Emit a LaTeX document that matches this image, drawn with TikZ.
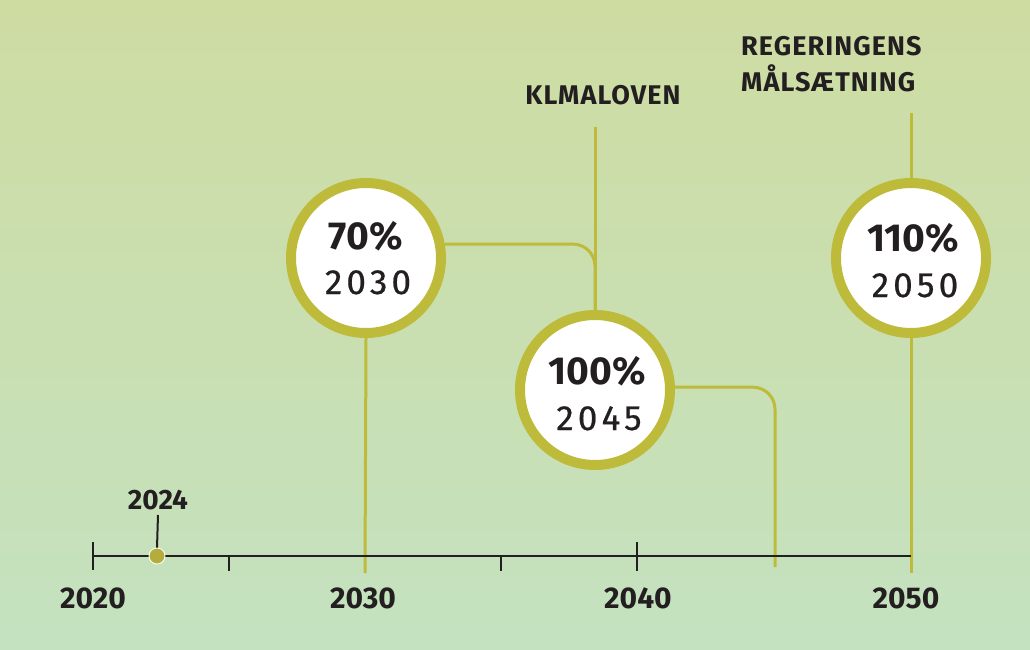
\documentclass[tikz,border=0pt]{standalone}
\usepackage{fontspec}
\setmainfont{Fira Sans}
\newfontfamily\spc[LetterSpace=4]{Fira Sans}
\newfontfamily\yrfont[LetterSpace=12,FakeBold=0.6]{Fira Sans}
\definecolor{ringc}{RGB}{190,187,58}
\definecolor{ink}{RGB}{35,31,32}
\definecolor{bgtop}{RGB}{206,220,162}
\definecolor{bgbot}{RGB}{196,226,192}
\definecolor{dotc}{RGB}{180,172,60}
\begin{document}
\begin{tikzpicture}[x=1pt,y=-1pt,
 ring/.style={circle,draw=ringc,line width=10pt,fill=white,minimum size=150pt,inner sep=0pt},
 conn/.style={draw=ringc,line width=3pt},
 axisline/.style={draw=ink,line width=2.2pt},
 tickmark/.style={draw=ink,line width=2pt},
 pct/.style={font=\fontsize{39}{40}\selectfont\bfseries,text=ink,anchor=base,inner sep=0pt},
 yr/.style={font=\fontsize{35}{36}\selectfont\yrfont,text=ink,anchor=base,inner sep=0pt},
 axlbl/.style={font=\fontsize{30}{30}\selectfont\bfseries,text=ink,anchor=base,inner sep=0pt},
 headlbl/.style={font=\fontsize{27}{34}\selectfont\spc\bfseries,text=ink,inner sep=0pt},
]
\shade[top color=bgtop,bottom color=bgbot] (0,0) rectangle (1030,650);
\useasboundingbox (0,0) rectangle (1030,650);

% circles
\node[ring] (c70) at (366,258) {};
\node[ring] (c100) at (595,390) {};
\node[ring] (c110) at (911,258) {};

% coordinates
\coordinate (kl) at (595,127);
\coordinate (rg) at (911,113);
\coordinate (g30) at (365,573);
\coordinate (g45) at (775,567);
\coordinate (g50) at (911,573);

% green connectors
\draw[conn] (kl) -- (c100.north);
\draw[conn] (rg) -- (c110.north);
\draw[conn,rounded corners=22pt] (c70.10) -| (c100.north);
\draw[conn,rounded corners=22pt] (c100.2) -| (g45);
\draw[conn] (c70.south) -- (g30);
\draw[conn] (c110.south) -- (g50);

% axis
\coordinate (a20) at (93,556);
\coordinate (a50) at (911,556);
\draw[axisline] (a20) -- (a50);
\coordinate (t20a) at (93,542); \coordinate (t20b) at (93,570);
\coordinate (t25a) at (229,556); \coordinate (t25b) at (229,571);
\coordinate (t35a) at (501,556); \coordinate (t35b) at (501,571);
\coordinate (t40a) at (637,542); \coordinate (t40b) at (637,571);
\draw[tickmark] (t20a) -- (t20b);
\draw[tickmark] (t25a) -- (t25b);
\draw[tickmark] (t35a) -- (t35b);
\draw[tickmark] (t40a) -- (t40b);

% 2024 marker
\coordinate (l24) at (158,515);
\node[circle,fill=dotc,draw=white,line width=0.8pt,minimum size=16pt,inner sep=0pt] (d24) at (157,556) {};
\draw[tickmark] (d24.north) -- (l24);

% axis labels
\node[axlbl,font=\fontsize{28}{28}\selectfont\bfseries] (y24) at (158,509) {2024};
\node[axlbl] (y20) at (93,608) {2020};
\node[axlbl] (y30) at (363,608) {2030};
\node[axlbl] (y40) at (638,608) {2040};
\node[axlbl] (y50) at (906,608) {2050};

% circle texts
\node[pct] (p70) at (366,249) {70\%};
\node[yr] (r70) at (368,294) {2030};
\node[pct] (p100) at (597,384) {100\%};
\node[yr] (r100) at (599,430) {2045};
\node[pct] (p110) at (913,251) {110\%};
\node[yr] (r110) at (915,297) {2050};

% headings
\node[headlbl,anchor=base] (hk) at (603,105) {KLMALOVEN};
\node[headlbl,anchor=base west] (hr1) at (741,56) {REGERINGENS};
\node[headlbl,anchor=base west] (hr2) at (741,92) {MÅLSÆTNING};
\end{tikzpicture}
\end{document}
